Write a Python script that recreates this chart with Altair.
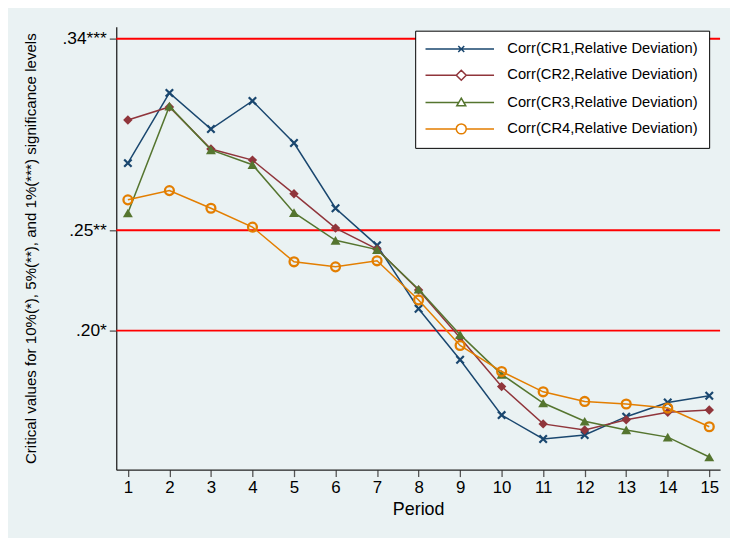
import altair as alt
import pandas as pd

# ---------------- data ----------------
periods = list(range(1, 16))
series_names = [
    "Corr(CR1,Relative Deviation)",
    "Corr(CR2,Relative Deviation)",
    "Corr(CR3,Relative Deviation)",
    "Corr(CR4,Relative Deviation)",
]
cr1 = [0.279, 0.314, 0.296, 0.310, 0.289, 0.2565, 0.238, 0.2064, 0.181, 0.1534,
       0.1415, 0.1435, 0.1526, 0.1597, 0.163]
cr2 = [0.3005, 0.307, 0.286, 0.2805, 0.2637, 0.2466, 0.2361, 0.2158, 0.192, 0.1676,
       0.149, 0.146, 0.1511, 0.1548, 0.1559]
cr3 = [0.2541, 0.3074, 0.2856, 0.2782, 0.2543, 0.2405, 0.2359, 0.2161, 0.1935, 0.1737,
       0.1594, 0.1503, 0.146, 0.1424, 0.1325]
cr4 = [0.2607, 0.2653, 0.2565, 0.2471, 0.2298, 0.2273, 0.2303, 0.2108, 0.1881, 0.1751,
       0.165, 0.1602, 0.1589, 0.1569, 0.1476]

crit_values = [0.1955, 0.2455, 0.341]
crit_labels = [".20*", ".25**", ".34***"]

y_title = "Critical values for 10%(*), 5%(**), and 1%(***) significance levels"
x_title = "Period"

# ---------------- styles ----------------
colors = ["#1A476F", "#90353B", "#55752F", "#E37E00"]
FONT = "Liberation Sans"
BG = "#EAF2F3"

all_values = [cr1, cr2, cr3, cr4]
rows = []
for name, vals in zip(series_names, all_values):
    for p, v in zip(periods, vals):
        rows.append({"period": p, "value": v, "series": name})
df = pd.DataFrame(rows)
crit_df = pd.DataFrame({"crit": crit_values, "label": crit_labels})

label_expr = " : ".join(
    [f"abs(datum.value - {v}) < 0.001 ? '{l}'" for v, l in zip(crit_values, crit_labels)]
) + " : ''"

x_scale = alt.Scale(domain=[0.72, 15.26], nice=False, zero=False)
y_scale = alt.Scale(domain=[0.1262, 0.3470], nice=False, zero=False)

x_axis = alt.Axis(values=periods, title=x_title, grid=False, labelFontSize=17,
                  titleFontSize=18, labelPadding=3, titlePadding=5,
                  tickSize=7, format="d")
y_axis = alt.Axis(values=crit_values, labelExpr=label_expr, title=y_title, grid=False,
                  labelFontSize=17.5, titleFontSize=15.2, labelPadding=3,
                  tickSize=7, titlePadding=24)

base_x = alt.X("period:Q", scale=x_scale, axis=x_axis)
base_y = alt.Y("value:Q", scale=y_scale, axis=y_axis)

rules = alt.Chart(crit_df).mark_rule(color="#FF0000", strokeWidth=2).encode(
    y=alt.Y("crit:Q", scale=y_scale, axis=y_axis)
)

x_path = "M-1,-1L1,1M-1,1L1,-1"
marker_specs = [
    dict(shape=x_path, filled=False, size=56, strokeWidth=2.2),
    dict(shape="diamond", filled=True, size=90, strokeWidth=1.5),
    dict(shape="triangle-up", filled=True, size=100, strokeWidth=1.5),
    dict(shape="circle", filled=False, size=80, strokeWidth=2.3),
]

layers = [rules]
for name, col, spec in zip(series_names, colors, marker_specs):
    sub = alt.Chart(df).transform_filter(alt.datum.series == name)
    line = sub.mark_line(color=col, strokeWidth=1.5).encode(x=base_x, y=base_y)
    pts = sub.mark_point(color=col, opacity=1, **spec).encode(x=base_x, y=base_y)
    layers += [line, pts]

# legend-only layer: symbols are a short line with the marker in its middle
legend_paths = [
    "M-1.6,0H12.2M5.0,-0.6L6.2,0.6M5.0,0.6L6.2,-0.6",
    "M-1.6,0H4.6M6.6,0H12.2M5.6,-1L6.6,0L5.6,1L4.6,0Z",
    "M-1.6,0H5.1M6.1,0H12.2M5.6,-0.9L6.5,0.65L4.7,0.65Z",
    "M-1.6,0H4.6M6.6,0H12.2M6.6,0A1,1 0 1,1 4.6,0A1,1 0 1,1 6.6,0Z",
]
legend = alt.Legend(orient="none", legendX=301, legendY=4, title=None,
                    fillColor="white", strokeColor="black", padding=11,
                    labelFont=FONT, labelFontSize=14.8, labelColor="black",
                    labelOffset=67, labelLimit=400, symbolSize=100,
                    symbolStrokeWidth=1.5, rowPadding=10.5)
legend_layer = alt.Chart(df).transform_filter("false").mark_point(
    filled=False, size=100, strokeWidth=1.5, opacity=1
).encode(
    color=alt.Color("series:N", scale=alt.Scale(domain=series_names, range=colors),
                    legend=legend, sort=series_names),
    shape=alt.Shape("series:N", scale=alt.Scale(domain=series_names, range=legend_paths),
                    legend=legend, sort=series_names),
)
layers.append(legend_layer)

chart = alt.layer(*layers).properties(
    width=608, height=446,
    autosize=alt.AutoSizeParams(type="none"),
    padding={"left": 109, "top": 17, "right": 10, "bottom": 67},
    background=BG,
).configure_view(
    fill="white", stroke=None
).configure_axis(
    labelFont=FONT, titleFont=FONT, labelColor="black", titleColor="black",
    titleFontWeight="normal", domainColor="#222222", domainWidth=1.3,
    tickColor="#555555", tickWidth=1.3,
)

chart.save("out.html", embed_options={"renderer": "svg", "actions": False})
